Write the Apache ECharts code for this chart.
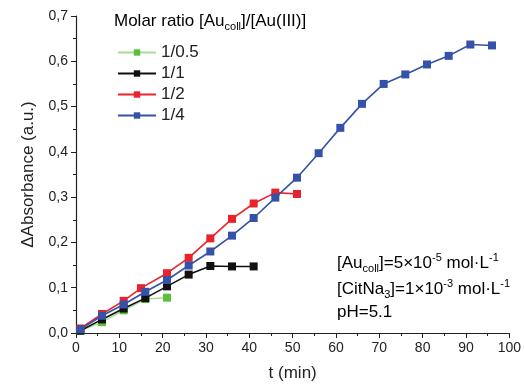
<!DOCTYPE html>
<html><head><meta charset="utf-8">
<script src="https://cdn.jsdelivr.net/npm/echarts@6/dist/echarts.min.js"></script>
<style>html,body{margin:0;padding:0;background:#fff}#c{width:524px;height:387px}</style>
</head><body><div id="c"></div>
<script>
const seriesNames = ['1/0.5', '1/1', '1/2', '1/4'];
const tGreen = [1, 6, 11, 16, 21];
const yGreen = [0.005, 0.024, 0.050, 0.075, 0.078];
const tBlack = [1, 6, 11, 16, 21, 26, 31, 36, 41];
const yBlack = [0.005, 0.030, 0.054, 0.077, 0.103, 0.129, 0.148, 0.147, 0.147];
const tRed = [1, 6, 11, 15, 21, 26, 31, 36, 41, 46, 51];
const yRed = [0.010, 0.042, 0.071, 0.099, 0.132, 0.166, 0.209, 0.252, 0.286, 0.310, 0.307];
const tBlue = [1, 6, 11, 16, 21, 26, 31, 36, 41, 46, 51, 56, 61, 66, 71, 76, 81, 86, 91, 96];
const yBlue = [0.008, 0.038, 0.063, 0.091, 0.117, 0.149, 0.180, 0.215, 0.254, 0.299, 0.343, 0.397, 0.453, 0.506, 0.550, 0.571, 0.593, 0.612, 0.637, 0.635];
const xTicks = [0, 10, 20, 30, 40, 50, 60, 70, 80, 90, 100];
const yTicks = [0, 0.1, 0.2, 0.3, 0.4, 0.5, 0.6, 0.7];

const pairs = (t, y) => t.map((v, i) => [v, y[i]]);
const colors = ['#5cbf3c', '#111111', '#e8232b', '#3552a8'];
const lineColors = ['#a8dc98', '#111111', '#e8232b', '#3552a8'];
const datas = [pairs(tGreen, yGreen), pairs(tBlack, yBlack), pairs(tRed, yRed), pairs(tBlue, yBlue)];
const font = 'Liberation Sans, Arial, sans-serif';

const chart = echarts.init(document.getElementById('c'), null, {renderer: 'canvas'});
const rich = {
  n: {fontSize: 17, fontFamily: font, color: '#222', lineHeight: 22, verticalAlign: 'middle'},
  sub: {fontSize: 11, fontFamily: font, color: '#222', lineHeight: 22, verticalAlign: 'bottom'},
  sup: {fontSize: 11, fontFamily: font, color: '#222', lineHeight: 22, verticalAlign: 'top'}
};
chart.setOption({
  animation: false,
  backgroundColor: '#fff',
  grid: {left: 76, right: 14, top: 16, bottom: 50, containLabel: false},
  xAxis: {
    type: 'value', min: xTicks[0], max: xTicks[xTicks.length - 1], interval: 10,
    name: 't (min)', nameLocation: 'middle', nameGap: 32,
    nameTextStyle: {fontSize: 17, fontFamily: font, color: '#222'},
    axisLine: {lineStyle: {color: '#222', width: 1.2}},
    axisTick: {show: true, length: 5, lineStyle: {color: '#222'}},
    minorTick: {show: true, splitNumber: 2, length: 3, lineStyle: {color: '#222'}},
    axisLabel: {fontSize: 14, fontFamily: font, color: '#222', margin: 8},
    splitLine: {show: false}
  },
  yAxis: {
    type: 'value', min: yTicks[0], max: yTicks[yTicks.length - 1], interval: 0.1,
    name: 'ΔAbsorbance (a.u.)', nameLocation: 'middle', nameGap: 39, nameRotate: 90,
    nameTextStyle: {fontSize: 17, fontFamily: font, color: '#222'},
    axisLine: {show: true, lineStyle: {color: '#222', width: 1.2}},
    axisTick: {show: true, length: 5, lineStyle: {color: '#222'}},
    minorTick: {show: true, splitNumber: 2, length: 3, lineStyle: {color: '#222'}},
    axisLabel: {fontSize: 14, fontFamily: font, color: '#222', margin: 8,
      formatter: v => v.toFixed(1).replace('.', ',')},
    splitLine: {show: false}
  },
  legend: {
    orient: 'vertical', left: 112, top: 39, itemWidth: 38, itemHeight: 8, itemGap: 4,
    data: seriesNames,
    textStyle: {fontSize: 17, fontFamily: font, color: '#222'}
  },
  series: seriesNames.map((n, i) => ({
    name: n, type: 'line', data: datas[i], symbol: 'rect', symbolSize: 8,
    z: 2 + i,
    lineStyle: {color: lineColors[i], width: 1.6},
    itemStyle: {color: colors[i]}
  })),
  graphic: [
    {type: 'text', left: 114, top: 13, style: {rich: rich,
      text: '{n|Molar ratio [Au}{sub|coll}{n|]/[Au(III)]}'}},
    {type: 'text', left: 337, top: 252, style: {rich: rich,
      text: '{n|[Au}{sub|coll}{n|]=5×10}{sup|-5}{n| mol·L}{sup|-1}'}},
    {type: 'text', left: 337, top: 278, style: {rich: rich,
      text: '{n|[CitNa}{sub|3}{n|]=1×10}{sup|-3}{n| mol·L}{sup|-1}'}},
    {type: 'text', left: 337, top: 304, style: {rich: rich,
      text: '{n|pH=5.1}'}}
  ]
});
</script></body></html>
